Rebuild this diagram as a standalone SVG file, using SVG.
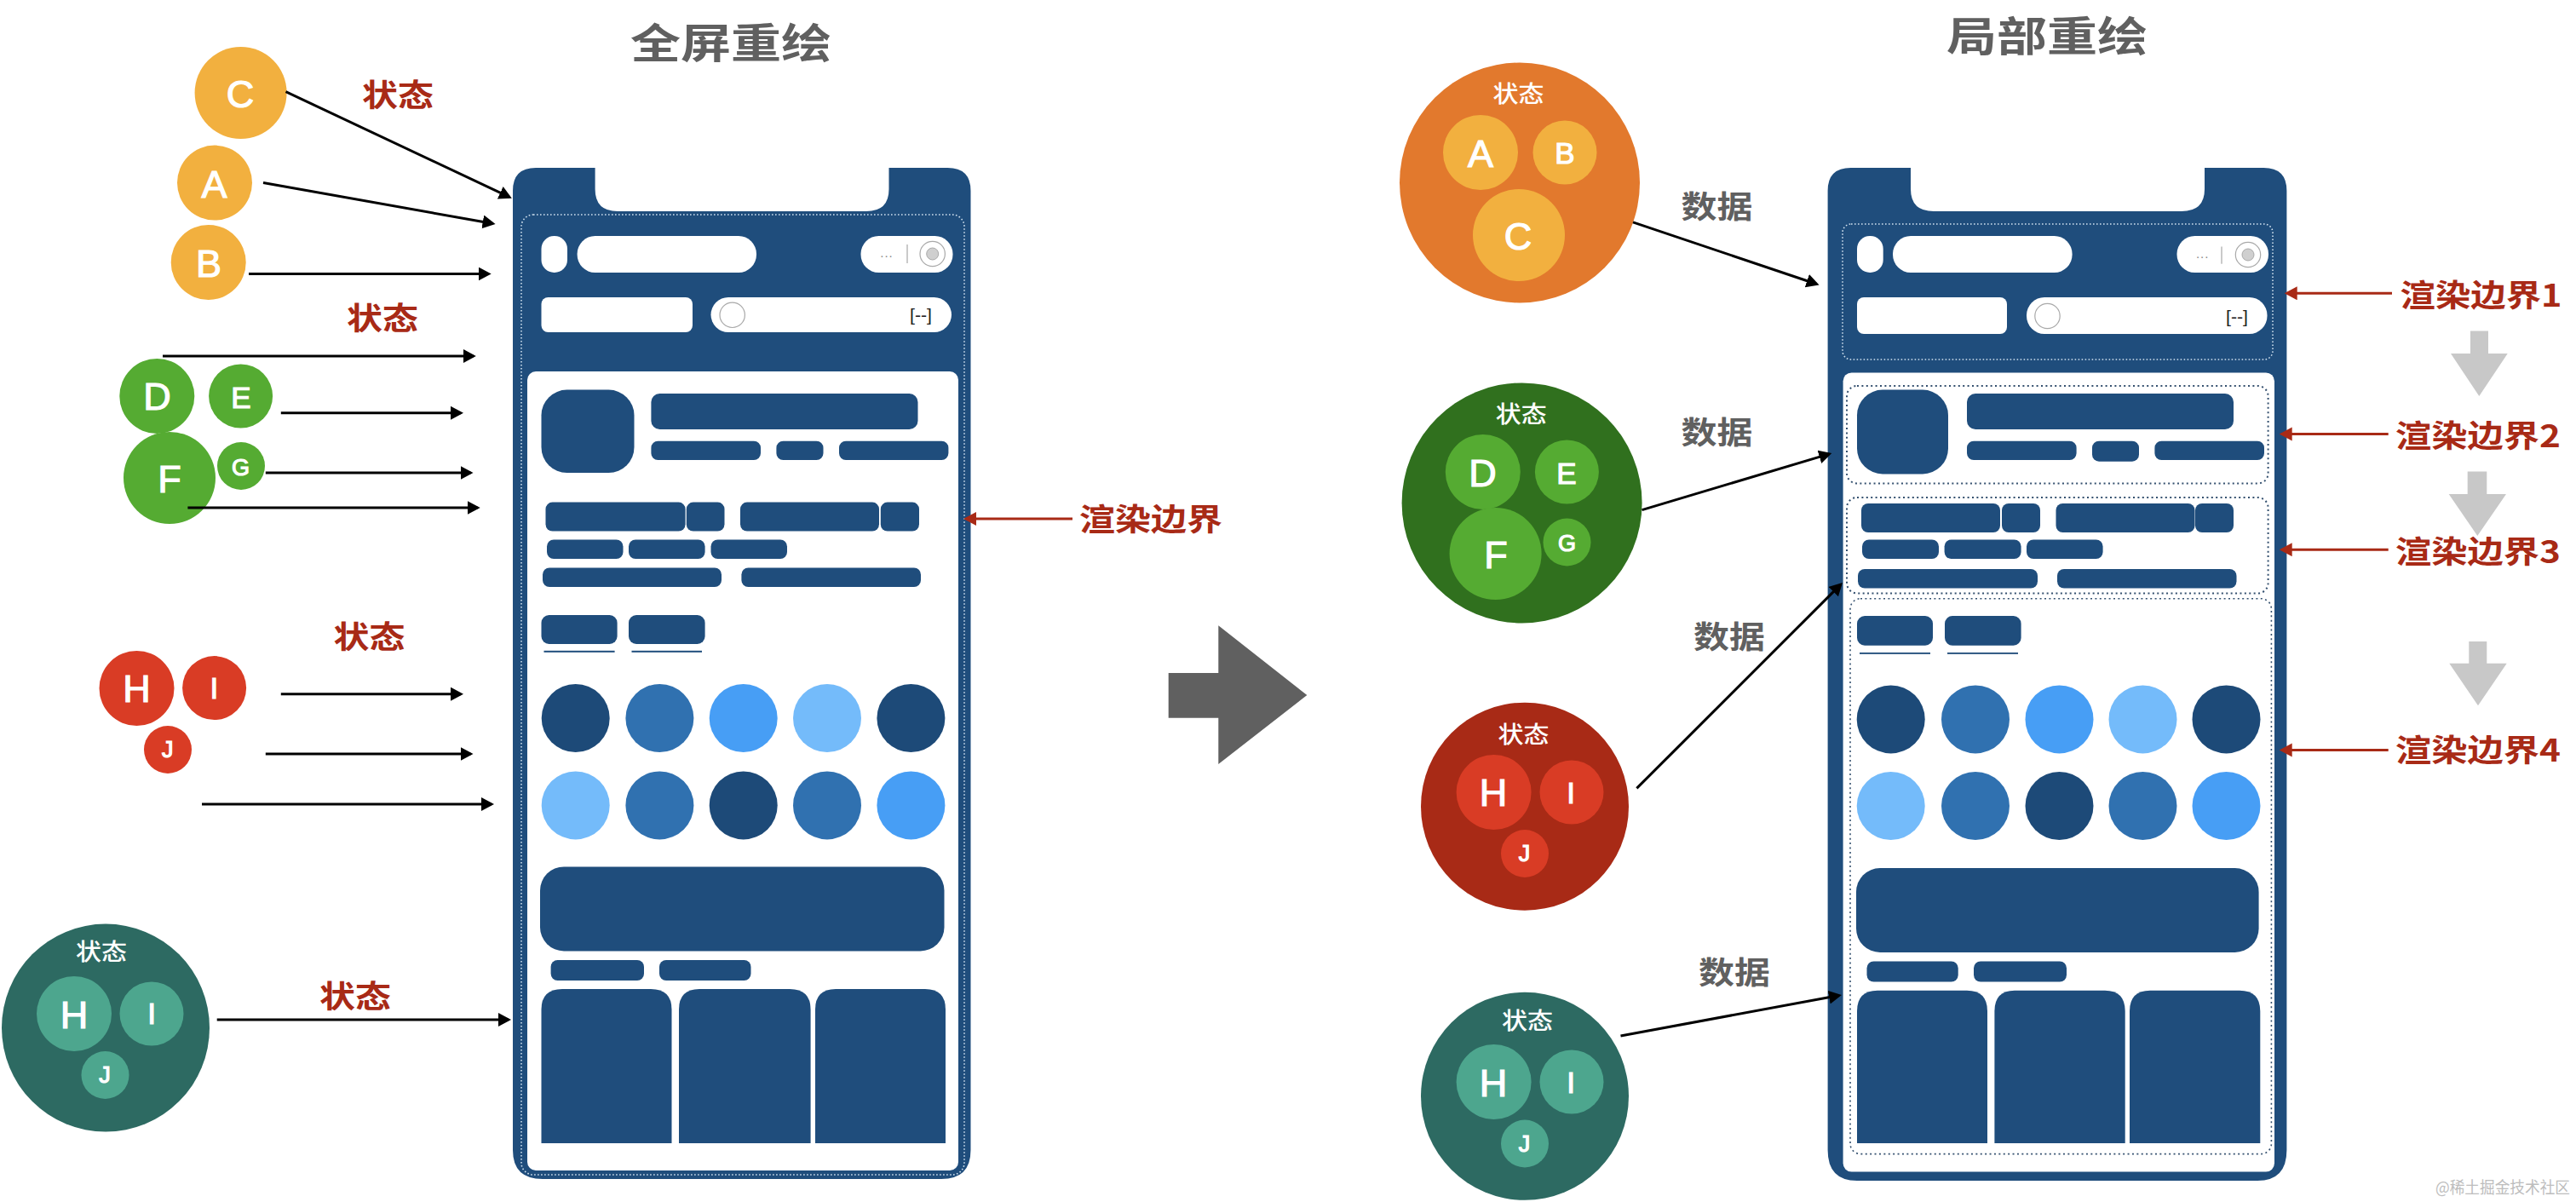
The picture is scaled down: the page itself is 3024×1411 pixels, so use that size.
<svg xmlns="http://www.w3.org/2000/svg" width="3024" height="1411" viewBox="0 0 3024 1411">
<style>
.cjk{font-family:"Noto Sans CJK SC","Noto Sans",sans-serif;text-anchor:middle}
.title{font-size:48px;font-weight:700;fill:#606060}
.red{font-size:36px;font-weight:700;fill:#a82a16}
.gray{font-size:36px;font-weight:700;fill:#606060}
.st{font-size:27px;font-weight:500;fill:#fff}
.wm{font-size:19px;fill:#bdbdbd}
.l{font-family:"Liberation Sans",Arial,sans-serif;fill:#fff;stroke:#fff;stroke-width:1.2;text-anchor:middle}
.l1{font-size:45px}.l2{font-size:35px}.l3{font-size:27px}
.b{fill:#1f4d7c}.w{fill:#fff}
.c1{fill:#1d4a78}.c2{fill:#3071b0}.c3{fill:#479ef5}.c4{fill:#74bbfa}
.or{fill:#f2b03f}.gr{fill:#55ab32}.rd{fill:#d93c25}.tl{fill:#4da68e}
.dl{fill:none;stroke:#cfe0ee;stroke-width:1.6;stroke-dasharray:1.6 2.4}
.dd{fill:none;stroke:#34506f;stroke-width:2;stroke-dasharray:2 3.4}
.ar{stroke:#000;stroke-width:3;fill:none;marker-end:url(#mb)}
.ar2{stroke:#a82a16;stroke-width:3;fill:none;marker-end:url(#mr)}
.ic{fill:#fff;stroke:#a9a9a9;stroke-width:1.2}
.dv{stroke:#b9b9b9;stroke-width:1.5}
.br{font-family:"Liberation Sans",Arial,sans-serif;font-size:20px;fill:#222;text-anchor:middle}
.dt{font-family:"Liberation Sans",Arial,sans-serif;font-size:15px;fill:#888;text-anchor:middle;letter-spacing:1px}
</style>
<defs>
<marker id="mb" markerUnits="userSpaceOnUse" markerWidth="18" markerHeight="18" refX="12" refY="8" orient="auto"><path d="M0 0L15 8L0 16Z" fill="#000"/></marker>
<marker id="mr" markerUnits="userSpaceOnUse" markerWidth="18" markerHeight="18" refX="12" refY="8" orient="auto"><path d="M0 0L15 8L0 16Z" fill="#a82a16"/></marker>
</defs>
<rect width="3024" height="1411" fill="#fff"/>
<text class="cjk title" x="858" y="68" textLength="236" lengthAdjust="spacingAndGlyphs">全屏重绘</text>
<text class="cjk title" x="2403" y="60" textLength="236" lengthAdjust="spacingAndGlyphs">局部重绘</text>

<g id="phone-left">
<path class="b" d="M629 197H698.6V222Q698.6 248 725 248H1017Q1043.5 248 1043.5 222V197H1112.5Q1139.5 197 1139.5 224V1350Q1139.5 1384 1105 1384H637Q602 1384 602 1350V224Q602 197 629 197Z"/>
<rect class="w" x="635.5" y="277" width="30.5" height="43" rx="15"/>
<rect class="w" x="677.6" y="277" width="210.4" height="43" rx="21"/>
<rect class="w" x="1010.5" y="277" width="108" height="43" rx="21"/>
<text class="dt" x="1041" y="302">...</text>
<line class="dv" x1="1065" y1="287" x2="1065" y2="309"/>
<circle class="ic" cx="1094.7" cy="298" r="14.7"/><circle cx="1094.7" cy="298" r="7" fill="#cfcfcf" stroke="#a9a9a9"/>
<rect class="w" x="635.5" y="349" width="177.5" height="41" rx="8"/>
<rect class="w" x="834.5" y="349" width="282.5" height="41" rx="20.5"/>
<circle class="ic" cx="859.7" cy="369.8" r="14.7"/>
<text class="br" x="1081" y="377" textLength="26" lengthAdjust="spacingAndGlyphs">[--]</text>
<rect class="w" x="619" y="436" width="506" height="938" rx="10"/>
<rect class="dl" x="612" y="252" width="520" height="1127" rx="14"/>
<rect class="b" x="635.5" y="457.6" width="109" height="97.4" rx="30"/>
<rect class="b" x="764.4" y="462" width="313.1" height="42" rx="10"/>
<rect class="b" x="764.4" y="517.7" width="128.6" height="22.3" rx="8"/>
<rect class="b" x="911.4" y="517.7" width="55.1" height="22.3" rx="8"/>
<rect class="b" x="985" y="517.7" width="128.4" height="22.3" rx="8"/>
<rect class="b" x="640.5" y="589.6" width="164.1" height="34" rx="8"/>
<rect class="b" x="805.8" y="589.6" width="44.7" height="34" rx="8"/>
<rect class="b" x="869" y="589.6" width="163" height="34" rx="8"/>
<rect class="b" x="1033.8" y="589.6" width="45.2" height="34" rx="8"/>
<rect class="b" x="642" y="633.5" width="89.5" height="22.5" rx="8"/>
<rect class="b" x="738" y="633.5" width="89.6" height="22.5" rx="8"/>
<rect class="b" x="834.5" y="633.5" width="89.5" height="22.5" rx="8"/>
<rect class="b" x="637" y="666.4" width="210" height="22.6" rx="8"/>
<rect class="b" x="870.4" y="666.4" width="210.6" height="22.6" rx="8"/>
<rect class="b" x="635.5" y="722" width="89.1" height="34" rx="9"/>
<rect class="b" x="738" y="722" width="89.6" height="34" rx="9"/>
<rect class="b" x="638.5" y="763.8" width="83.1" height="2"/>
<rect class="b" x="741.5" y="763.8" width="82.5" height="2"/>
<circle class="c1" cx="675.7" cy="843" r="40"/><circle class="c2" cx="774.4" cy="843" r="40"/><circle class="c3" cx="872.7" cy="843" r="40"/><circle class="c4" cx="971" cy="843" r="40"/><circle class="c1" cx="1069.4" cy="843" r="40"/>
<circle class="c4" cx="675.7" cy="945.4" r="40"/><circle class="c2" cx="774.4" cy="945.4" r="40"/><circle class="c1" cx="872.7" cy="945.4" r="40"/><circle class="c2" cx="971" cy="945.4" r="40"/><circle class="c3" cx="1069.4" cy="945.4" r="40"/>
<rect class="b" x="634" y="1017.4" width="474.5" height="99" rx="28"/>
<rect class="b" x="646.6" y="1127" width="109.4" height="24" rx="8"/>
<rect class="b" x="774" y="1127" width="107.5" height="24" rx="8"/>
<path class="b" d="M635.5 1342V1185Q635.5 1161 660 1161H764Q788.5 1161 788.5 1185V1342Z"/>
<path class="b" d="M797 1342V1185Q797 1161 821 1161H927Q951.6 1161 951.6 1185V1342Z"/>
<path class="b" d="M957 1342V1185Q957 1161 981 1161H1086Q1110 1161 1110 1185V1342Z"/>
</g>

<g id="phone-right">
<path class="b" d="M2172.6 197H2243V222Q2243 248 2270 248H2561Q2588 248 2588 222V197H2657.4Q2684.4 197 2684.4 224V1350Q2684.4 1386 2650 1386H2180Q2145.6 1386 2145.6 1350V224Q2145.6 197 2172.6 197Z"/>
<rect class="dl" x="2163" y="263" width="505" height="159" rx="10"/>
<rect class="w" x="2180" y="277" width="30.7" height="43" rx="15"/>
<rect class="w" x="2222" y="277" width="210.6" height="43" rx="21"/>
<rect class="w" x="2555.5" y="277" width="107.5" height="43" rx="21"/>
<text class="dt" x="2585.7" y="303">...</text>
<line class="dv" x1="2608" y1="289.5" x2="2608" y2="309.7"/>
<circle class="ic" cx="2639" cy="299" r="14.7"/><circle cx="2639" cy="299" r="7" fill="#cfcfcf" stroke="#a9a9a9"/>
<rect class="w" x="2180" y="349" width="176" height="43" rx="8"/>
<rect class="w" x="2379" y="349" width="282.5" height="43" rx="21"/>
<circle class="ic" cx="2403.5" cy="371" r="14.7"/>
<text class="br" x="2626" y="379" textLength="26" lengthAdjust="spacingAndGlyphs">[--]</text>
<rect class="w" x="2163.6" y="437.4" width="506.4" height="938.2" rx="10"/>
<rect class="dd" x="2168" y="453" width="494.6" height="114.5" rx="12"/>
<rect class="dd" x="2168" y="584" width="494.6" height="112.4" rx="12"/>
<rect class="dd" x="2172" y="702.7" width="494.4" height="651.9" rx="12" style="stroke-width:1.6"/>
<rect class="b" x="2180" y="457.6" width="107" height="98.8" rx="30"/>
<rect class="b" x="2309" y="462" width="313" height="42" rx="10"/>
<rect class="b" x="2309" y="517.7" width="128.6" height="22.3" rx="8"/>
<rect class="b" x="2456" y="517.7" width="55" height="24" rx="8"/>
<rect class="b" x="2529.4" y="517.7" width="128.6" height="22.3" rx="8"/>
<rect class="b" x="2185" y="591" width="163" height="34" rx="8"/>
<rect class="b" x="2350" y="591" width="45" height="34" rx="8"/>
<rect class="b" x="2413.5" y="591" width="163" height="34" rx="8"/>
<rect class="b" x="2577" y="591" width="45" height="34" rx="8"/>
<rect class="b" x="2186" y="633.5" width="90" height="22.5" rx="8"/>
<rect class="b" x="2282.6" y="633.5" width="90" height="22.5" rx="8"/>
<rect class="b" x="2379" y="633.5" width="89.6" height="22.5" rx="8"/>
<rect class="b" x="2181" y="668" width="211" height="22.5" rx="8"/>
<rect class="b" x="2415" y="668" width="210.5" height="22.5" rx="8"/>
<rect class="b" x="2180" y="723" width="89" height="34.7" rx="9"/>
<rect class="b" x="2283" y="723" width="89.6" height="34.7" rx="9"/>
<rect class="c1" x="2183" y="766" width="83" height="1.8"/>
<rect class="c1" x="2286" y="766" width="83" height="1.8"/>
<circle class="c1" cx="2219.7" cy="844.4" r="40"/><circle class="c2" cx="2319" cy="844.4" r="40"/><circle class="c3" cx="2417.5" cy="844.4" r="40"/><circle class="c4" cx="2515.5" cy="844.4" r="40"/><circle class="c1" cx="2613.5" cy="844.4" r="40"/>
<circle class="c4" cx="2219.7" cy="946" r="40"/><circle class="c2" cx="2319" cy="946" r="40"/><circle class="c1" cx="2417.5" cy="946" r="40"/><circle class="c2" cx="2515.5" cy="946" r="40"/><circle class="c3" cx="2613.5" cy="946" r="40"/>
<rect class="b" x="2179" y="1019" width="472.6" height="99" rx="28"/>
<rect class="b" x="2191.5" y="1128.5" width="107.2" height="24.1" rx="8"/>
<rect class="b" x="2317" y="1128.5" width="109" height="24.1" rx="8"/>
<path class="b" d="M2180 1342V1187Q2180 1162.7 2204 1162.7H2309Q2333 1162.7 2333 1187V1342Z"/>
<path class="b" d="M2341.4 1342V1187Q2341.4 1162.7 2365 1162.7H2471Q2494.7 1162.7 2494.7 1187V1342Z"/>
<path class="b" d="M2500 1342V1187Q2500 1162.7 2524 1162.7H2629Q2653.3 1162.7 2653.3 1187V1342Z"/>
</g>

<g id="left-states">
<g id="node-C"><circle class="or" cx="282.6" cy="109" r="54"/><text class="l l1" x="282" y="125.6">C</text></g>
<g id="node-A"><circle class="or" cx="252" cy="214.6" r="44"/><text class="l l1" x="251.4" y="232">A</text></g>
<g id="node-B"><circle class="or" cx="244.7" cy="308" r="44"/><text class="l l1" x="245" y="324.5">B</text></g>
<g id="node-D"><circle class="gr" cx="184.3" cy="465" r="44"/><text class="l l1" x="184.5" y="481">D</text></g>
<g id="node-E"><circle class="gr" cx="282.6" cy="465" r="37.5"/><text class="l l2" x="283" y="478.5">E</text></g>
<g id="node-F"><circle class="gr" cx="199" cy="561" r="54"/><text class="l l1" x="199" y="578">F</text></g>
<g id="node-G"><circle class="gr" cx="283" cy="547" r="28"/><text class="l l3" x="282.4" y="558">G</text></g>
<g id="node-H"><circle class="rd" cx="160.5" cy="808" r="44"/><text class="l l1" x="160.4" y="824">H</text></g>
<g id="node-I"><circle class="rd" cx="251.6" cy="807.6" r="37.5"/><text class="l l2" x="251.4" y="820">I</text></g>
<g id="node-J"><circle class="rd" cx="197" cy="880" r="28"/><text class="l l3" x="196.7" y="889">J</text></g>
<g id="store-left"><circle fill="#2d6a62" cx="124" cy="1206.6" r="122"/><text class="cjk st" x="119" y="1126.5" textLength="60" lengthAdjust="spacingAndGlyphs">状态</text>
<circle class="tl" cx="87" cy="1190" r="44"/><text class="l l1" x="87" y="1206.5">H</text>
<circle class="tl" cx="178" cy="1190" r="37.5"/><text class="l l2" x="178" y="1202">I</text>
<circle class="tl" cx="123.5" cy="1262" r="28"/><text class="l l3" x="123" y="1271">J</text></g>
</g>

<g id="right-states">
<g id="store-1"><circle fill="#e2792d" cx="1784" cy="214.5" r="141"/><text class="cjk st" x="1782.4" y="119.8" textLength="60" lengthAdjust="spacingAndGlyphs">状态</text>
<circle class="or" cx="1738" cy="179" r="44"/><text class="l l1" x="1738" y="196">A</text>
<circle class="or" cx="1837" cy="179" r="37.5"/><text class="l l2" x="1837" y="192">B</text>
<circle class="or" cx="1783" cy="276" r="54"/><text class="l l1" x="1782" y="292.5">C</text></g>
<g id="store-2"><circle fill="#30701e" cx="1786.6" cy="590.4" r="141"/><text class="cjk st" x="1785.8" y="495.8" textLength="60" lengthAdjust="spacingAndGlyphs">状态</text>
<circle class="gr" cx="1740.8" cy="554" r="44"/><text class="l l1" x="1740.5" y="571">D</text>
<circle class="gr" cx="1839.4" cy="554" r="37.5"/><text class="l l2" x="1839" y="568">E</text>
<circle class="gr" cx="1755.6" cy="650" r="54"/><text class="l l1" x="1756" y="667">F</text>
<circle class="gr" cx="1839.5" cy="636.5" r="28"/><text class="l l3" x="1839.4" y="647">G</text></g>
<g id="store-3"><circle fill="#a82a16" cx="1790" cy="946.7" r="122"/><text class="cjk st" x="1788.6" y="872" textLength="60" lengthAdjust="spacingAndGlyphs">状态</text>
<circle class="rd" cx="1753.6" cy="930" r="44"/><text class="l l1" x="1753" y="946">H</text>
<circle class="rd" cx="1845" cy="930" r="37.5"/><text class="l l2" x="1844" y="942.5">I</text>
<circle class="rd" cx="1790" cy="1002" r="28"/><text class="l l3" x="1789.6" y="1011">J</text></g>
<g id="store-4"><circle fill="#2d6a62" cx="1790" cy="1286.8" r="122"/><text class="cjk st" x="1793" y="1207.6" textLength="60" lengthAdjust="spacingAndGlyphs">状态</text>
<circle class="tl" cx="1753.6" cy="1270" r="44"/><text class="l l1" x="1753" y="1286.5">H</text>
<circle class="tl" cx="1845" cy="1270" r="37.5"/><text class="l l2" x="1844" y="1282.5">I</text>
<circle class="tl" cx="1790" cy="1342.5" r="28"/><text class="l l3" x="1789.6" y="1351.5">J</text></g>
</g>

<g id="connectors">
<line class="ar" x1="335.5" y1="107.7" x2="598.1" y2="231.4"/>
<line class="ar" x1="309" y1="214.6" x2="578.6" y2="262.5"/>
<line class="ar" x1="292" y1="321.5" x2="573.7" y2="321.5"/>
<line class="ar" x1="191" y1="418" x2="555.8" y2="418"/>
<line class="ar" x1="329.8" y1="484.8" x2="541" y2="484.8"/>
<line class="ar" x1="311.8" y1="555" x2="552.5" y2="555"/>
<line class="ar" x1="220.4" y1="596" x2="560.7" y2="596"/>
<line class="ar" x1="329.8" y1="814.7" x2="541" y2="814.7"/>
<line class="ar" x1="311.8" y1="885" x2="552.5" y2="885"/>
<line class="ar" x1="237" y1="944" x2="577" y2="944"/>
<line class="ar" x1="254.7" y1="1197" x2="597" y2="1197"/>
<line class="ar2" x1="1259" y1="609" x2="1134" y2="609"/>
<line class="ar" x1="1917" y1="260.8" x2="2132.7" y2="333.5"/>
<line class="ar" x1="1927.5" y1="598.6" x2="2147.4" y2="532.9"/>
<line class="ar" x1="1921.4" y1="925.4" x2="2160.8" y2="686.1"/>
<line class="ar" x1="1902.5" y1="1216" x2="2159" y2="1168.5"/>
<line class="ar2" x1="2808" y1="344.3" x2="2684.7" y2="344.3"/>
<line class="ar2" x1="2803.7" y1="509.6" x2="2678.7" y2="509.6"/>
<line class="ar2" x1="2803.7" y1="645.2" x2="2678.7" y2="645.2"/>
<line class="ar2" x1="2803.7" y1="880.5" x2="2678.7" y2="880.5"/>
</g>

<g id="flow-arrows">
<path id="big-arrow" fill="#606060" d="M1371.7 790H1430.3V734.3L1534.3 816L1430.3 897V842.7H1371.7Z"/>
<path fill="#c8c8c8" d="M2900 388.6H2921V415H2943.7L2910.3 465L2877 415H2900Z"/>
<path fill="#c8c8c8" d="M2896.7 553.5H2919.3V580H2942L2908.3 629L2874.7 580H2896.7Z"/>
<path fill="#c8c8c8" d="M2898.3 753H2919.3V778.8H2942.7L2909 828.3L2875.3 778.8H2898.3Z"/>
</g>

<g id="labels">
<text class="cjk red" x="467" y="125" textLength="84" lengthAdjust="spacingAndGlyphs">状态</text>
<text class="cjk red" x="449" y="386.5" textLength="84" lengthAdjust="spacingAndGlyphs">状态</text>
<text class="cjk red" x="433.6" y="761" textLength="84" lengthAdjust="spacingAndGlyphs">状态</text>
<text class="cjk red" x="417" y="1183" textLength="84" lengthAdjust="spacingAndGlyphs">状态</text>
<text class="cjk red" x="1351" y="622.8" textLength="168" lengthAdjust="spacingAndGlyphs">渲染边界</text>
<text class="cjk gray" x="2015.5" y="256" textLength="84" lengthAdjust="spacingAndGlyphs">数据</text>
<text class="cjk gray" x="2015.5" y="521" textLength="84" lengthAdjust="spacingAndGlyphs">数据</text>
<text class="cjk gray" x="2030" y="761" textLength="84" lengthAdjust="spacingAndGlyphs">数据</text>
<text class="cjk gray" x="2036" y="1155" textLength="84" lengthAdjust="spacingAndGlyphs">数据</text>
<text class="cjk red" x="2912.5" y="359.5" textLength="190" lengthAdjust="spacingAndGlyphs">渲染边界1</text>
<text class="cjk red" x="2909" y="524.5" textLength="194" lengthAdjust="spacingAndGlyphs">渲染边界2</text>
<text class="cjk red" x="2909" y="660.5" textLength="194" lengthAdjust="spacingAndGlyphs">渲染边界3</text>
<text class="cjk red" x="2909" y="894" textLength="194" lengthAdjust="spacingAndGlyphs">渲染边界4</text>
<text class="cjk wm" x="2938" y="1401" textLength="158" lengthAdjust="spacingAndGlyphs">@稀土掘金技术社区</text>
</g>
</svg>
